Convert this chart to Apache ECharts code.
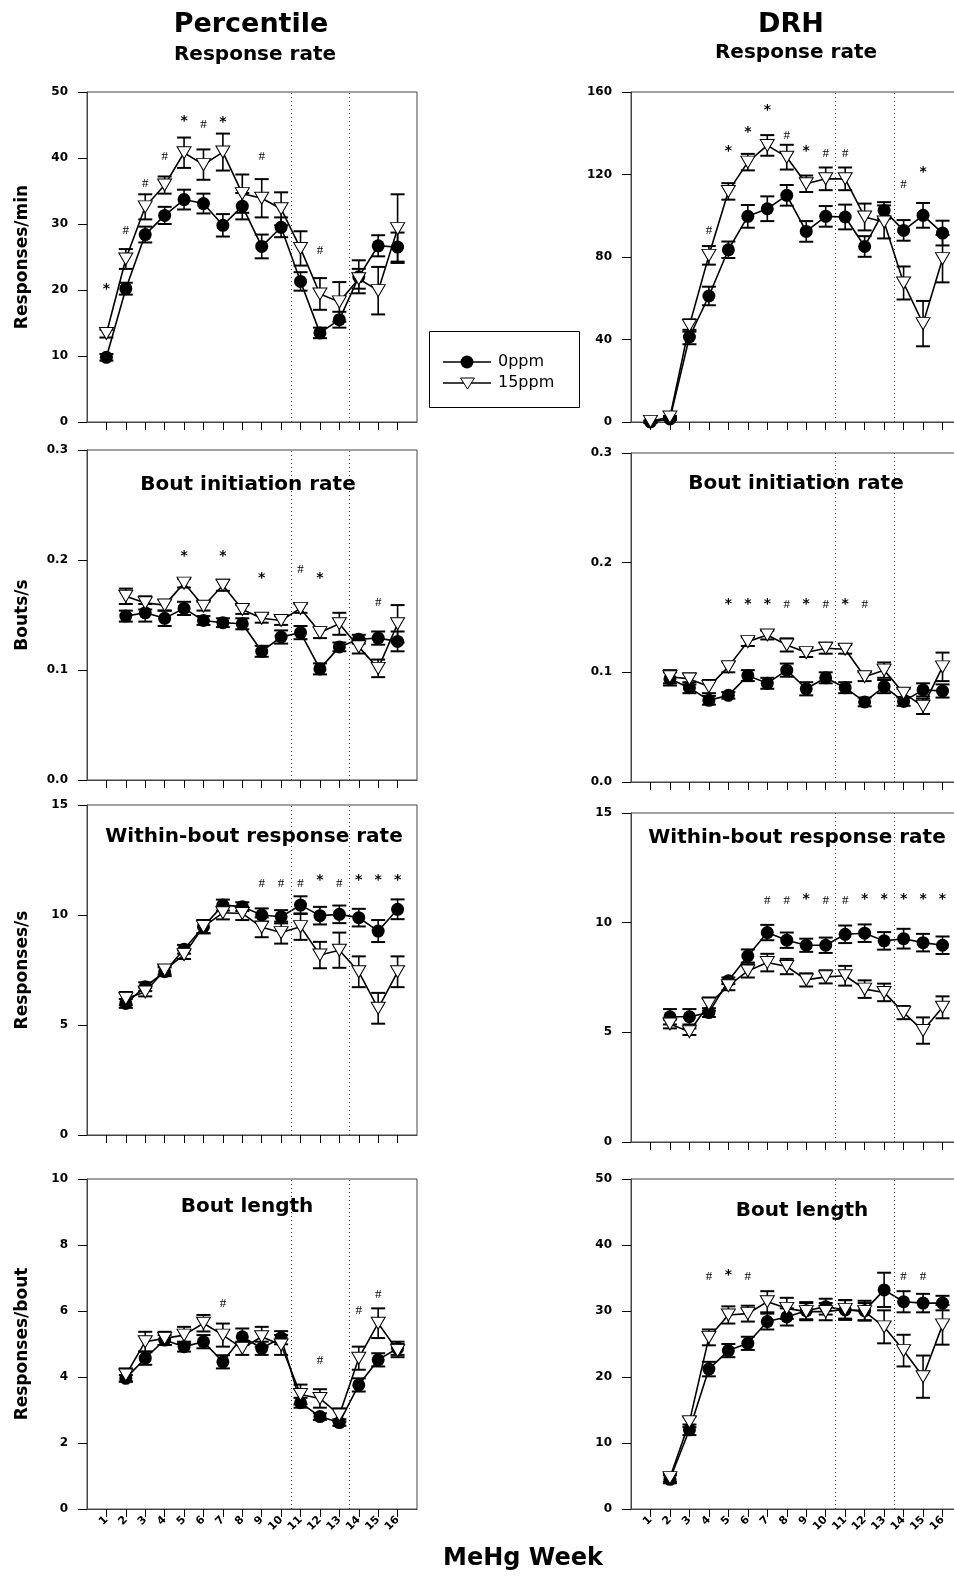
<!DOCTYPE html>
<html lang="en">
<head>
<meta charset="utf-8" />
<title>MeHg week - Percentile vs DRH</title>
<script src="https://cdn.jsdelivr.net/npm/echarts@6/dist/echarts.min.js"></script>
</head>
<body style="margin:0;background:#ffffff">
<div id="chart" style="width:954px;height:1577px"></div>
<script>
// weeks on the x axis
let weeks = [1, 2, 3, 4, 5, 6, 7, 8, 9, 10, 11, 12, 13, 14, 15, 16]

// Percentile - response rate (responses/min)
let pctRate0 = [9.8, 20.2, 28.4, 31.3, 33.7, 33.1, 29.8, 32.7, 26.6, 29.5, 21.3, 13.5, 15.5, 22.0, 26.7, 26.5]
let pctRate0Err = [0.5, 0.9, 1.2, 1.3, 1.5, 1.5, 1.7, 2.0, 1.8, 1.5, 1.4, 0.8, 1.2, 2.5, 1.6, 2.2]
let pctRate15 = [13.4, 24.7, 32.6, 35.9, 40.8, 39.0, 40.9, 34.6, 33.9, 32.3, 26.3, 19.4, 18.2, 21.7, 19.9, 29.3]
let pctRate15Err = [0.6, 1.5, 1.9, 1.3, 2.3, 2.3, 2.8, 2.9, 2.9, 2.5, 2.6, 2.4, 3.0, 1.5, 3.6, 5.2]
let pctRateSig = ['*', '#', '#', '#', '*', '#', '*', '', '#', '', '', '#', '', '', '', '']
let pctRateSigY = [20.6, 29, 36.2, 40.2, 46, 45, 45.8, null, 40.2, null, null, 26, null, null, null, null]

// DRH - response rate
let drhRate0 = [0, 1.5, 41.2, 61.1, 83.5, 99.7, 103.4, 109.9, 92.4, 99.7, 99.4, 85.1, 102.6, 92.9, 100.2, 91.6]
let drhRate0Err = [0.5, 0.5, 3.5, 4.5, 4, 5.5, 6, 5, 5, 5, 6, 5, 4, 5, 6, 6]
let drhRate15 = [0.3, 2.4, 46.8, 80.8, 111.8, 126.0, 134.1, 128.4, 115.5, 117.9, 117.9, 99.4, 97, 67.4, 47.7, 79.2]
let drhRate15Err = [0.5, 0.5, 3, 4.5, 4, 4, 5, 6, 4, 5.5, 5.5, 6.5, 8, 8, 11, 11.5]
let drhRateSig = ['', '', '', '#', '*', '*', '*', '#', '*', '#', '#', '', '', '#', '*', '']
let drhRateSigY = [null, null, null, 92.9, 132.5, 142, 152.7, 139, 132.5, 130, 130, null, null, 115, 122.3, null]

// Percentile - bout initiation rate (bouts/s)
let pctInit0 = [null, 0.149, 0.152, 0.147, 0.156, 0.145, 0.143, 0.142, 0.117, 0.130, 0.134, 0.101, 0.121, 0.128, 0.129, 0.126]
let pctInit0Err = [null, 0.005, 0.008, 0.007, 0.006, 0.004, 0.004, 0.005, 0.005, 0.006, 0.006, 0.005, 0.004, 0.004, 0.006, 0.009]
let pctInit15 = [null, 0.167, 0.161, 0.159, 0.179, 0.158, 0.177, 0.155, 0.147, 0.145, 0.156, 0.134, 0.142, 0.121, 0.1015, 0.142]
let pctInit15Err = [null, 0.007, 0.006, 0.005, 0.004, 0.004, 0.005, 0.004, 0.004, 0.004, 0.004, 0.005, 0.010, 0.006, 0.008, 0.017]
let pctInitSig = ['', '', '', '', '*', '', '*', '', '*', '', '#', '*', '', '', '#', '']
let pctInitSigY = [null, null, null, null, 0.206, null, 0.206, null, 0.186, null, 0.191, 0.186, null, null, 0.161, null]

// DRH - bout initiation rate
let drhInit0 = [null, 0.094, 0.086, 0.0745, 0.079, 0.097, 0.090, 0.102, 0.085, 0.095, 0.086, 0.073, 0.087, 0.0735, 0.084, 0.083]
let drhInit0Err = [null, 0.006, 0.005, 0.004, 0.003, 0.005, 0.005, 0.006, 0.006, 0.005, 0.005, 0.004, 0.006, 0.004, 0.006, 0.006]
let drhInit15 = [null, 0.096, 0.094, 0.087, 0.105, 0.128, 0.134, 0.125, 0.118, 0.122, 0.121, 0.096, 0.102, 0.081, 0.069, 0.105]
let drhInit15Err = [null, 0.006, 0.005, 0.006, 0.005, 0.004, 0.004, 0.006, 0.004, 0.005, 0.004, 0.004, 0.007, 0.004, 0.007, 0.013]
let drhInitSig = ['', '', '', '', '*', '*', '*', '#', '*', '#', '*', '#', '', '', '', '']
let drhInitSigY = [null, null, null, null, 0.165, 0.165, 0.165, 0.162, 0.165, 0.162, 0.165, 0.162, null, null, null, null]

// Percentile - within-bout response rate (responses/s)
let pctWithin0 = [null, 5.98, 6.74, 7.42, 8.44, 9.47, 10.45, 10.38, 10.0, 9.92, 10.45, 9.97, 10.03, 9.88, 9.27, 10.26]
let pctWithin0Err = [null, 0.2, 0.2, 0.2, 0.2, 0.3, 0.25, 0.2, 0.3, 0.3, 0.4, 0.4, 0.4, 0.4, 0.5, 0.45]
let pctWithin15 = [null, 6.2, 6.5, 7.5, 8.2, 9.47, 10.1, 10.07, 9.44, 9.2, 9.47, 8.18, 8.4, 7.42, 5.76, 7.42]
let pctWithin15Err = [null, 0.3, 0.2, 0.2, 0.2, 0.3, 0.3, 0.3, 0.45, 0.5, 0.6, 0.6, 0.8, 0.7, 0.7, 0.7]
let pctWithinSig = ['', '', '', '', '', '', '', '', '#', '#', '#', '*', '#', '*', '*', '*']
let pctWithinSigY = [null, null, null, null, null, null, null, null, 11.45, 11.45, 11.45, 11.7, 11.45, 11.7, 11.7, 11.7]

// DRH - within-bout response rate
let drhWithin0 = [null, 5.71, 5.71, 5.9, 7.35, 8.48, 9.55, 9.2, 8.97, 8.97, 9.47, 9.52, 9.17, 9.27, 9.09, 8.97]
let drhWithin0Err = [null, 0.35, 0.35, 0.2, 0.15, 0.3, 0.35, 0.35, 0.3, 0.35, 0.4, 0.4, 0.4, 0.45, 0.4, 0.4]
let drhWithin15 = [null, 5.38, 5.03, 6.29, 7.12, 7.8, 8.18, 8.0, 7.39, 7.53, 7.58, 6.97, 6.82, 5.9, 5.08, 6.14]
let drhWithin15Err = [null, 0.2, 0.15, 0.3, 0.2, 0.3, 0.4, 0.35, 0.3, 0.3, 0.45, 0.4, 0.4, 0.3, 0.6, 0.5]
let drhWithinSig = ['', '', '', '', '', '', '#', '#', '*', '#', '#', '*', '*', '*', '*', '*']
let drhWithinSigY = [null, null, null, null, null, null, 11.0, 11.0, 11.2, 11.0, 11.0, 11.2, 11.2, 11.2, 11.2, 11.2]

// Percentile - bout length (responses/bout)
let pctLength0 = [null, 3.96, 4.57, 5.12, 4.92, 5.07, 4.46, 5.22, 4.87, 5.19, 3.22, 2.8, 2.62, 3.76, 4.52, 4.87]
let pctLength0Err = [null, 0.1, 0.2, 0.15, 0.15, 0.2, 0.2, 0.25, 0.2, 0.2, 0.15, 0.1, 0.1, 0.2, 0.2, 0.2]
let pctLength15 = [null, 4.06, 5.07, 5.17, 5.27, 5.63, 5.27, 4.87, 5.22, 4.97, 3.47, 3.35, 2.85, 4.57, 5.63, 4.8]
let pctLength15Err = [null, 0.2, 0.3, 0.2, 0.25, 0.25, 0.35, 0.2, 0.3, 0.3, 0.3, 0.28, 0.2, 0.35, 0.45, 0.2]
let pctLengthSig = ['', '', '', '', '', '', '#', '', '', '', '', '#', '', '#', '#', '']
let pctLengthSigY = [null, null, null, null, null, null, 6.23, null, null, null, null, 4.5, null, 6.0, 6.5, null]

// DRH - bout length
let drhLength0 = [null, 4.5, 12.0, 21.2, 24.0, 25.1, 28.4, 29.1, 30.05, 30.66, 30.15, 30.05, 33.2, 31.4, 31.2, 31.2]
let drhLength0Err = [null, 0.6, 0.8, 1.1, 1.0, 1.0, 1.2, 1.3, 1.3, 1.2, 1.5, 1.5, 2.6, 1.6, 1.4, 1.1]
let drhLength15 = [null, 4.75, 13.2, 26.0, 29.4, 29.6, 31.4, 30.4, 29.9, 29.9, 30.25, 29.9, 27.6, 24.0, 20.05, 27.9]
let drhLength15Err = [null, 0.6, 0.8, 1.2, 1.3, 1.2, 1.6, 1.6, 1.3, 1.3, 1.4, 1.3, 2.5, 2.4, 3.2, 3.0]
let drhLengthSig = ['', '', '', '#', '*', '#', '', '', '', '', '', '', '', '#', '#', '']
let drhLengthSigY = [null, null, null, 35.2, 35.8, 35.2, null, null, null, null, null, null, null, 35.2, 35.2, null]

// phase boundaries (between weeks)
let phaseLines = [10.5, 13.5]

const FONT = '"DejaVu Sans", sans-serif'

let panels = [
    { m0: pctRate0, e0: pctRate0Err, m15: pctRate15, e15: pctRate15Err, sig: pctRateSig, sigY: pctRateSigY, max: 50, step: 10, dec: 0, yName: 'Responses/min', box: { left: 87, top: 92, width: 330, height: 330 } },
    { m0: drhRate0, e0: drhRate0Err, m15: drhRate15, e15: drhRate15Err, sig: drhRateSig, sigY: drhRateSigY, max: 160, step: 40, dec: 0, yName: '', box: { left: 631, top: 92, width: 331, height: 330 } },
    { m0: pctInit0, e0: pctInit0Err, m15: pctInit15, e15: pctInit15Err, sig: pctInitSig, sigY: pctInitSigY, max: 0.3, step: 0.1, dec: 1, yName: 'Bouts/s', box: { left: 87, top: 450, width: 330, height: 330 } },
    { m0: drhInit0, e0: drhInit0Err, m15: drhInit15, e15: drhInit15Err, sig: drhInitSig, sigY: drhInitSigY, max: 0.3, step: 0.1, dec: 1, yName: '', box: { left: 631, top: 453, width: 331, height: 329 } },
    { m0: pctWithin0, e0: pctWithin0Err, m15: pctWithin15, e15: pctWithin15Err, sig: pctWithinSig, sigY: pctWithinSigY, max: 15, step: 5, dec: 0, yName: 'Responses/s', box: { left: 87, top: 805, width: 330, height: 330 } },
    { m0: drhWithin0, e0: drhWithin0Err, m15: drhWithin15, e15: drhWithin15Err, sig: drhWithinSig, sigY: drhWithinSigY, max: 15, step: 5, dec: 0, yName: '', box: { left: 631, top: 813, width: 331, height: 329 } },
    { m0: pctLength0, e0: pctLength0Err, m15: pctLength15, e15: pctLength15Err, sig: pctLengthSig, sigY: pctLengthSigY, max: 10, step: 2, dec: 0, yName: 'Responses/bout', box: { left: 87, top: 1179, width: 330, height: 330 } },
    { m0: drhLength0, e0: drhLength0Err, m15: drhLength15, e15: drhLength15Err, sig: drhLengthSig, sigY: drhLengthSigY, max: 50, step: 10, dec: 0, yName: '', box: { left: 631, top: 1179, width: 331, height: 330 } }
]

function pairs(vals) {
    let out = []
    weeks.forEach((w, i) => { if (vals[i] != null) out.push([w, vals[i]]) })
    return out
}

function triples(vals, errs) {
    let out = []
    weeks.forEach((w, i) => { if (vals[i] != null) out.push([w, vals[i], errs[i]]) })
    return out
}

function errBar(params, api) {
    let x = api.value(0), y = api.value(1), e = api.value(2)
    let hi = api.coord([x, y + e])
    let lo = api.coord([x, y - e])
    let hw = 7
    let st = { stroke: '#000', lineWidth: 1.6 }
    return {
        type: 'group',
        children: [
            { type: 'line', shape: { x1: hi[0], y1: hi[1], x2: lo[0], y2: lo[1] }, style: st },
            { type: 'line', shape: { x1: hi[0] - hw, y1: hi[1], x2: hi[0] + hw, y2: hi[1] }, style: { stroke: '#000', lineWidth: 2 } },
            { type: 'line', shape: { x1: lo[0] - hw, y1: lo[1], x2: lo[0] + hw, y2: lo[1] }, style: { stroke: '#000', lineWidth: 2 } }
        ]
    }
}

let grids = [], xAxes = [], yAxes = [], series = []

panels.forEach((p, i) => {
    let bottom = i >= 6
    grids.push(Object.assign({ show: true, borderColor: '#444', borderWidth: 1, outerBoundsMode: 'none', containLabel: false }, p.box))
    xAxes.push({
        gridIndex: i, type: 'value', min: 0, max: 17, interval: 1,
        axisLine: { show: true, lineStyle: { color: '#444', width: 1 } },
        axisTick: { show: true, customValues: weeks, length: 8, lineStyle: { color: '#000' } },
        axisLabel: {
            show: bottom, customValues: weeks, rotate: 45, margin: 9,
            fontFamily: FONT, fontWeight: 'bold', fontSize: 11, color: '#000'
        },
        splitLine: { show: false }
    })
    yAxes.push({
        gridIndex: i, type: 'value', min: 0, max: p.max, interval: p.step,
        axisLine: { show: true, lineStyle: { color: '#444', width: 1 } },
        axisTick: { show: true, length: 9, lineStyle: { color: '#000' } },
        axisLabel: {
            margin: 19, fontFamily: FONT, fontWeight: 'bold', fontSize: 12, color: '#000',
            formatter: v => v.toFixed(p.dec)
        },
        splitLine: { show: false },
        name: p.yName, nameLocation: 'middle', nameGap: 56,
        nameTextStyle: { fontFamily: FONT, fontWeight: 'bold', fontSize: 17, color: '#000' }
    })

    series.push({
        type: 'custom', xAxisIndex: i, yAxisIndex: i, z: 2, clip: false,
        renderItem: errBar, data: triples(p.m0, p.e0)
    })
    series.push({
        type: 'line', name: '0ppm', xAxisIndex: i, yAxisIndex: i, z: 3,
        data: pairs(p.m0), symbol: 'circle', symbolSize: 13,
        lineStyle: { color: '#000', width: 1.6 }, itemStyle: { color: '#000' },
        markLine: {
            silent: true, symbol: 'none', label: { show: false },
            lineStyle: { color: '#333', width: 1, type: [1, 3] },
            data: phaseLines.map(v => ({ xAxis: v }))
        }
    })
    series.push({
        type: 'custom', xAxisIndex: i, yAxisIndex: i, z: 4, clip: false,
        renderItem: errBar, data: triples(p.m15, p.e15)
    })
    series.push({
        type: 'line', name: '15ppm', xAxisIndex: i, yAxisIndex: i, z: 5,
        data: pairs(p.m15), symbol: 'path://M0,0L10,0L5,9Z', symbolSize: [14, 12],
        lineStyle: { color: '#000', width: 1.6 },
        itemStyle: { color: '#fff', borderColor: '#000', borderWidth: 1 }
    })

    let sigData = [], sigText = []
    weeks.forEach((w, k) => {
        if (p.sig[k]) { sigData.push([w, p.sigY[k]]); sigText.push(p.sig[k]) }
    })
    series.push({
        type: 'custom', xAxisIndex: i, yAxisIndex: i, z: 6, clip: false,
        data: sigData,
        renderItem: (params, api) => {
            let pt = api.coord([api.value(0), api.value(1)])
            let t = sigText[params.dataIndex]
            let star = t == '*'
            return {
                type: 'text', x: pt[0], y: pt[1] + (star ? 3 : 0),
                style: {
                    text: t, fill: '#000',
                    font: star ? 'bold 14px "DejaVu Sans"' : '13px "Liberation Serif"',
                    textAlign: 'center', textVerticalAlign: 'middle'
                }
            }
        }
    })
})

function label(text, x, y, size, weight) {
    return {
        type: 'text', x: x, y: y, z: 10,
        style: { text: text, fill: '#000', font: (weight || 'bold') + ' ' + size + 'px ' + FONT, textAlign: 'center', textVerticalAlign: 'middle' }
    }
}

let graphics = [
    label('Percentile', 251, 25, 27),
    label('Response rate', 255, 55, 20),
    label('DRH', 791, 25, 27),
    label('Response rate', 796, 53, 20),
    label('Bout initiation rate', 248, 485, 20),
    label('Bout initiation rate', 796, 484, 20),
    label('Within-bout response rate', 254, 837, 20),
    label('Within-bout response rate', 797, 838, 20),
    label('Bout length', 247, 1207, 20),
    label('Bout length', 802, 1211, 20),
    label('MeHg Week', 523, 1559, 24),
    // legend
    { type: 'rect', z: 10, shape: { x: 429.5, y: 331.5, width: 150, height: 76 }, style: { fill: '#fff', stroke: '#000', lineWidth: 1 } },
    { type: 'line', z: 11, shape: { x1: 443, y1: 362, x2: 491, y2: 362 }, style: { stroke: '#000', lineWidth: 1.6 } },
    { type: 'circle', z: 12, shape: { cx: 467, cy: 362, r: 6.5 }, style: { fill: '#000' } },
    { type: 'line', z: 11, shape: { x1: 443, y1: 383, x2: 491, y2: 383 }, style: { stroke: '#000', lineWidth: 1.6 } },
    { type: 'polygon', z: 12, shape: { points: [[460.5, 378], [474.5, 378], [467.5, 389]] }, style: { fill: '#fff', stroke: '#000', lineWidth: 1 } },
    { type: 'text', z: 12, x: 498, y: 362, style: { text: '0ppm', fill: '#000', font: '16px ' + FONT, textAlign: 'left', textVerticalAlign: 'middle' } },
    { type: 'text', z: 12, x: 498, y: 383, style: { text: '15ppm', fill: '#000', font: '16px ' + FONT, textAlign: 'left', textVerticalAlign: 'middle' } }
]

let chart = echarts.init(document.getElementById('chart'))
chart.setOption({
    backgroundColor: '#ffffff',
    animation: false,
    grid: grids,
    xAxis: xAxes,
    yAxis: yAxes,
    series: series,
    graphic: graphics
})
</script>
</body>
</html>
